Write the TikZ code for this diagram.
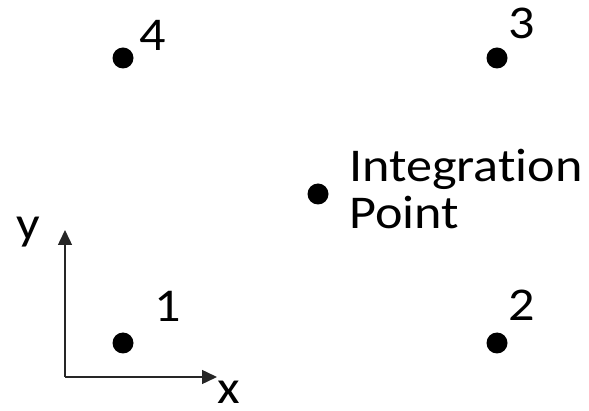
\documentclass[tikz,border=0pt]{standalone}
\usepackage{fontspec}
\setmainfont[FakeStretch=1.11,Ligatures=NoCommon]{Carlito}
\usetikzlibrary{arrows.meta}
\begin{document}
\begin{tikzpicture}[x=1pt,y=-1pt,
  dot/.style={circle,fill=black,inner sep=0pt,minimum size=21pt},
  lbl/.style={inner sep=0pt,font=\fontsize{47}{56}\selectfont},
  axis/.style={line width=1.5pt,draw=black!85,-{Triangle[length=15pt,width=14pt]}}]
\useasboundingbox (0,0) rectangle (589,411);
\node[dot] (p4) at (123,58) {};
\node[dot] (p3) at (497,58) {};
\node[dot] (p1) at (123,343) {};
\node[dot] (p2) at (497,343) {};
\node[dot] (ip) at (318,194) {};
\node[lbl] (l4) at (153,35) {4};
\node[lbl] (l3) at (522,23) {3};
\node[lbl] (l1) at (168,306) {1};
\node[lbl] (l2) at (522,305) {2};
\node[lbl,anchor=base west] (t1) at (349,182) {Integration};
\node[lbl,anchor=base west] (t2) at (349,229) {Point};
\coordinate (o) at (65,377);
\coordinate (ytip) at (65,230);
\coordinate (xtip) at (217,377);
\draw[axis] (o) -- (ytip);
\draw[axis] (o) -- (xtip);
\node[lbl,anchor=base] (ly) at (28,240) {y};
\node[lbl,anchor=base] (lx) at (229,404) {x};
\end{tikzpicture}
\end{document}
